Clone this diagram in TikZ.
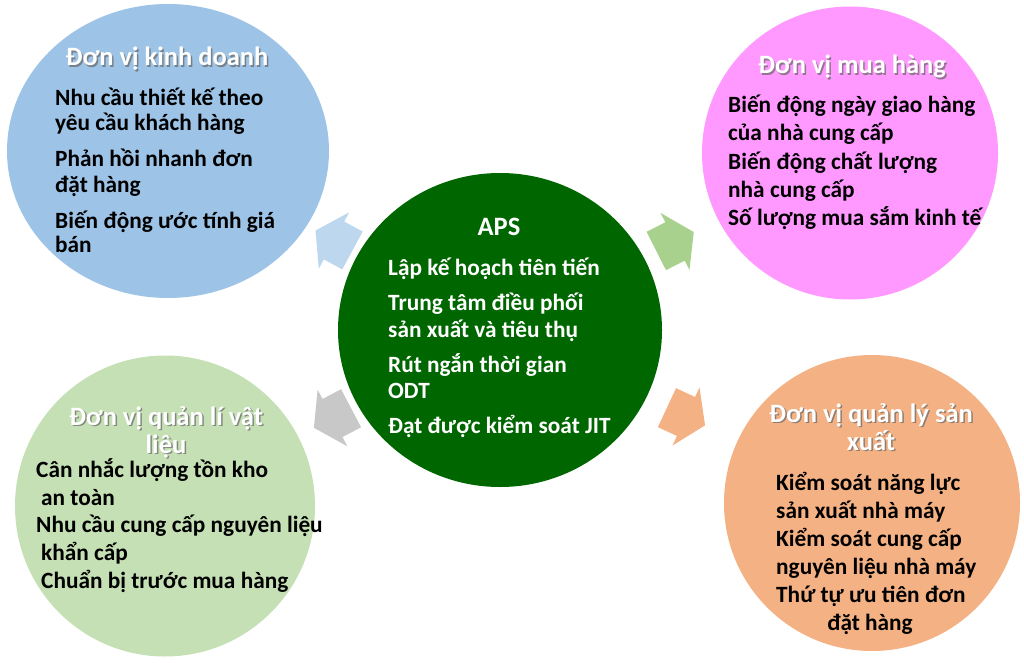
\documentclass[tikz,border=0pt]{standalone}
\usepackage{fontspec}
\setmainfont{Carlito}
\usetikzlibrary{shapes.geometric,calc}
\definecolor{cblue}{RGB}{157,195,230}
\definecolor{cpink}{RGB}{255,153,255}
\definecolor{clgreen}{RGB}{197,224,180}
\definecolor{corange}{RGB}{244,177,131}
\definecolor{cdgreen}{RGB}{0,102,0}
\definecolor{ablue}{RGB}{189,215,238}
\definecolor{agreen}{RGB}{169,209,142}
\definecolor{agray}{RGB}{200,200,200}
\definecolor{aorange}{RGB}{244,177,131}
\newcommand\shtitle[3]{%
  \node[shd] (#1s) at ($(#2)+(1.5,1.5)$) {#3};
  \node[ttl] (#1) at (#2) {#3};}
\newcommand\blkarrow[4]{%
  \coordinate (#1m) at ($(#2.center)!0.5!(#3.center)$);
  \coordinate (#1b) at ($(#1m)!-21pt!(#3.center)$);
  \fill[#4] ($(#1b)!21.5pt!90:(#3.center)$) -- ($(#1m)!21.5pt!90:(#3.center)$)
    -- ($(#1m)!32pt!90:(#3.center)$) -- ($(#1m)!21pt!(#3.center)$)
    -- ($(#1m)!32pt!-90:(#3.center)$) -- ($(#1m)!21.5pt!-90:(#3.center)$)
    -- ($(#1b)!21.5pt!-90:(#3.center)$) -- cycle;}
\begin{document}
\begin{tikzpicture}[x=1pt,y=-1pt,
  disc/.style={ellipse, inner sep=0pt, draw=none},
  body/.style={anchor=base west, inner sep=0pt, font=\fontsize{23.3}{26}\selectfont\bfseries, text=black},
  cbody/.style={body, text=white},
  ttl/.style={anchor=base, inner sep=0pt, font=\fontsize{26.5}{30}\selectfont\bfseries, text=white},
  shd/.style={ttl, text=black!60, opacity=0.7},
]
\useasboundingbox (0,0) rectangle (1024,663);
\node[disc, fill=cblue, minimum width=322pt, minimum height=294pt] (blue) at (168,151) {};
\node[disc, fill=cpink, minimum width=296pt, minimum height=293pt] (pink) at (850,153) {};
\node[disc, fill=clgreen, minimum width=300pt, minimum height=301pt] (lgreen) at (165,506) {};
\node[disc, fill=corange, minimum width=296pt, minimum height=296pt] (orange) at (872,503) {};
\node[disc, fill=cdgreen, minimum width=324pt, minimum height=314pt] (aps) at (500,330) {};

\blkarrow{a1}{aps}{blue}{ablue}
\blkarrow{a2}{aps}{pink}{agreen}
\blkarrow{a3}{aps}{lgreen}{agray}
\blkarrow{a4}{aps}{orange}{aorange}

% center
\node[ttl] (c0) at (499,235) {APS};
\node[cbody] (c1) at (388,275) {Lập kế hoạch tiên tiến};
\node[cbody] (c2) at (388,310) {Trung tâm điều phối};
\node[cbody] (c3) at (388,337) {sản xuất và tiêu thụ};
\node[cbody] (c4) at (388,372) {Rút ngắn thời gian};
\node[cbody] (c5) at (388,398) {ODT};
\node[cbody] (c6) at (388,433) {Đạt được kiểm soát JIT};

% blue
\shtitle{t1}{167,66}{Đơn vị kinh doanh}
\node[body] (b1) at (55,106) {Nhu cầu thiết kế theo};
\node[body] (b2) at (55,131) {yêu cầu khách hàng};
\node[body] (b3) at (55,167) {Phản hồi nhanh đơn};
\node[body] (b4) at (55,192) {đặt hàng};
\node[body] (b5) at (55,228) {Biến động ước tính giá};
\node[body] (b6) at (55,252) {bán};

% pink
\shtitle{t2}{852,74}{Đơn vị mua hàng}
\node[body] (p1) at (728,113) {Biến động ngày giao hàng};
\node[body] (p2) at (728,141) {của nhà cung cấp};
\node[body] (p3) at (728,169) {Biến động chất lượng};
\node[body] (p4) at (728,197) {nhà cung cấp};
\node[body] (p5) at (728,225) {Số lượng mua sắm kinh tế};

% light green
\shtitle{t3}{166,425}{Đơn vị quản lí vật}
\shtitle{t3b}{166,453}{liệu}
\node[body] (g1) at (36,477) {Cân nhắc lượng tồn kho};
\node[body] (g2) at (41,505) {an toàn};
\node[body] (g3) at (36,532) {Nhu cầu cung cấp nguyên liệu};
\node[body] (g4) at (41,560) {khẩn cấp};
\node[body] (g5) at (41,588) {Chuẩn bị trước mua hàng};

% orange
\shtitle{t4}{871,422}{Đơn vị quản lý sản}
\shtitle{t4b}{871,450}{xuất}
\node[body] (o1) at (776,490) {Kiểm soát năng lực};
\node[body] (o2) at (776,518) {sản xuất nhà máy};
\node[body] (o3) at (776,546) {Kiểm soát cung cấp};
\node[body] (o4) at (776,574) {nguyên liệu nhà máy};
\node[body] (o5) at (776,602) {Thứ tự ưu tiên đơn};
\node[body, anchor=base] (o6) at (870,630) {đặt hàng};
\end{tikzpicture}
\end{document}
